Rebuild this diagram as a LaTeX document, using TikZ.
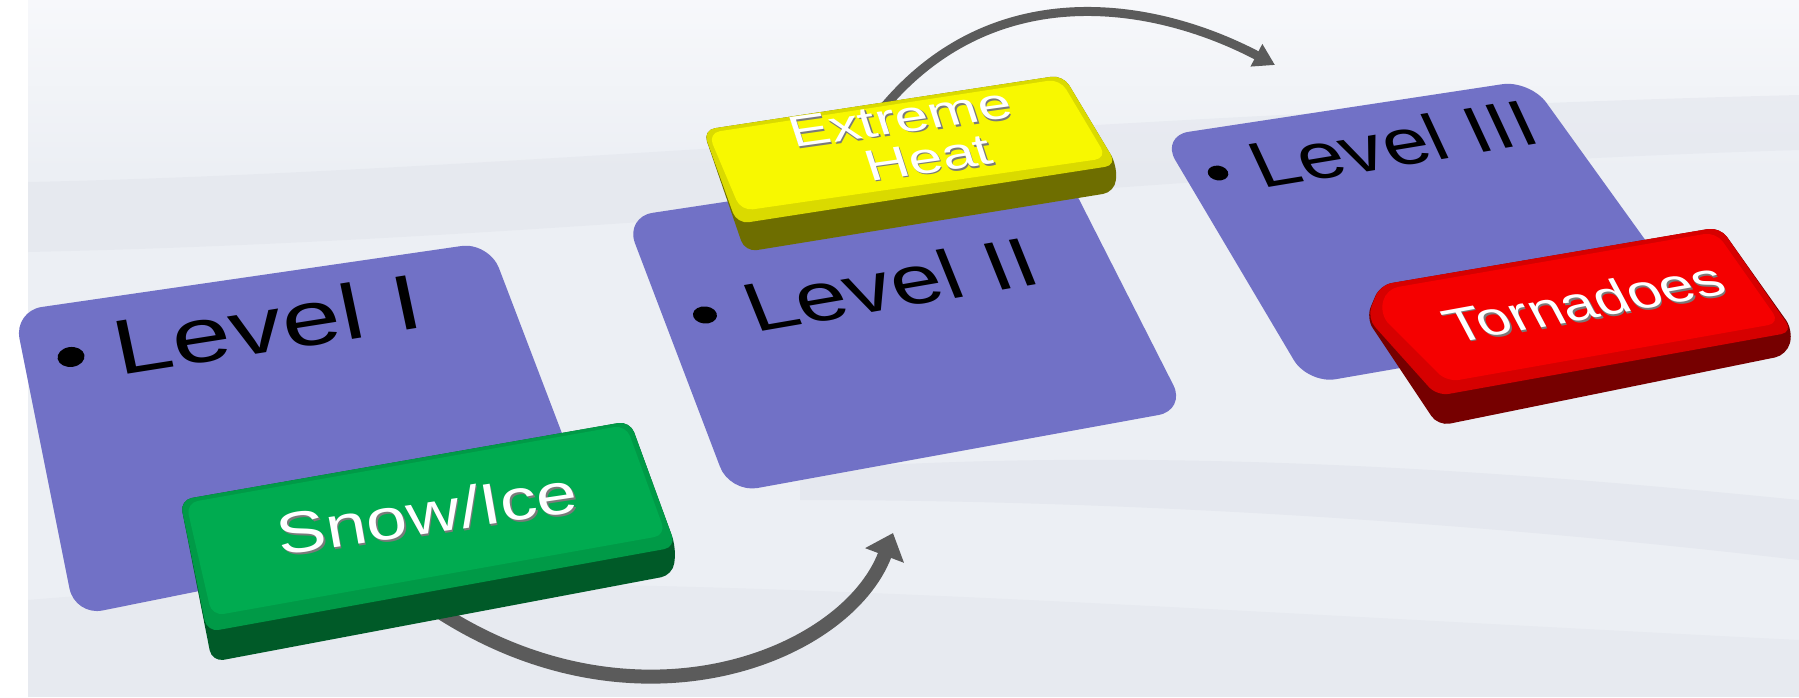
\documentclass[tikz,border=0pt]{standalone}
\usepackage{fontspec}
\setmainfont{Liberation Sans}
\newfontfamily\fLa[FakeStretch=1.35,FakeSlant=-0.052]{Liberation Sans}
\newfontfamily\fLb[FakeStretch=1.30,FakeSlant=-0.216]{Liberation Sans}
\newfontfamily\fLc[FakeStretch=1.23,FakeSlant=-0.279]{Liberation Sans}
\newfontfamily\fKa[FakeStretch=1.27,FakeSlant=-0.026]{Liberation Sans}
\newfontfamily\fKb[FakeStretch=1.36,FakeSlant=-0.176]{Liberation Sans}
\newfontfamily\fKc[FakeStretch=1.22,FakeSlant=-0.319]{Liberation Sans}
\usetikzlibrary{arrows.meta}
\definecolor{panelc}{HTML}{7171C6}
\definecolor{arrc}{HTML}{5B5B5B}
\definecolor{bgc}{HTML}{ECEFF4}
\definecolor{bgdark}{HTML}{E0E3EB}
\definecolor{bglight}{HTML}{F7F8FB}
\definecolor{gmain}{HTML}{00AB50}
\definecolor{gbev}{HTML}{009A47}
\definecolor{gside}{HTML}{005A28}
\definecolor{ymain}{HTML}{F8F800}
\definecolor{ybev}{HTML}{DADA00}
\definecolor{yside}{HTML}{6E6E00}
\definecolor{rmain}{HTML}{F50000}
\definecolor{rbev}{HTML}{D60000}
\definecolor{rside}{HTML}{760000}
\definecolor{txtshadow}{HTML}{7A7A7A}
\begin{document}
\begin{tikzpicture}[x=1pt,y=-1pt,
  panel/.style={fill=panelc, rounded corners=28pt},
  keyshape/.style={rounded corners=12pt},
  arrowline/.style={draw=arrc, line width=#1},
  lvl/.style={anchor=center, inner sep=0pt, text=black},
  keytxt/.style={anchor=center, inner sep=0pt, text=white},
  keyshd/.style={anchor=center, inner sep=0pt, text=txtshadow},
]
\useasboundingbox (0,0) rectangle (1799,697);
% background
\fill[white] (0,0) rectangle (1799,697);
\fill[bgc] (28,0) rectangle (1799,697);
\shade[top color=bglight,bottom color=bgc] (28,0) rectangle (1799,170);
\fill[bgdark,opacity=0.45] (28,182) .. controls (500,172) and (1100,112) .. (1799,95) -- (1799,150) .. controls (1200,168) and (600,240) .. (28,252) -- cycle;
\fill[bgdark,opacity=0.55] (800,470) .. controls (1150,445) and (1500,470) .. (1799,500) -- (1799,560) .. controls (1500,525) and (1150,500) .. (800,500) -- cycle;
\fill[bgdark,opacity=0.4] (28,600) .. controls (500,560) and (1000,600) .. (1799,640) -- (1799,697) -- (28,697) -- cycle;

% panels
\fill[panel] (14,311) -- (489,242) -- (592,512) -- (75,616) -- cycle;
\fill[panel] (625,217) -- (1055,152) -- (1186,410) -- (730,493) -- cycle;
\fill[panel] (1161,136) -- (1530,80) -- (1700,316) -- (1308,384) -- cycle;

% panel texts
\node[lvl, font=\fLa\fontsize{78}{80}\selectfont, rotate=9] (t1) at (268.8,324.1) {Level I};
\node[lvl, font=\fLb\fontsize{70}{72}\selectfont, rotate=9.8] (t2) at (895.3,283.3) {Level II};
\node[lvl, font=\fLc\fontsize{66}{68}\selectfont, rotate=9.4] (t3) at (1399.3,142.5) {Level III};
\begin{scope}[cm={1.3334,0.2112,-0.2079,0.9781,(120,376)}]
  \fill (-32.6,-26.5) circle (10pt);
\end{scope}
\begin{scope}[cm={1.2810,0.2213,-0.3746,0.9272,(755,333)}]
  \fill (-31.2,-26.9) circle (9pt);
\end{scope}
\begin{scope}[cm={1.2135,0.2009,-0.4226,0.9063,(1263,189)}]
  \fill (-28.7,-24.0) circle (8pt);
\end{scope}

% arrows
\coordinate (a1s) at (440,612);
\coordinate (a1e) at (893,533);
\draw[arrowline=14pt, -{Triangle[width=40pt,length=24pt]}] (a1s) .. controls (640,740) and (847,655) .. (a1e);
\coordinate (a2s) at (880,112);
\coordinate (a2e) at (1275,65);
\draw[arrowline=9pt, -{Triangle[width=24pt,length=21pt]}] (a2s) .. controls (990,-24) and (1151,0) .. (a2e);

% green key
\fill[gside, keyshape] (180,500) -- (630,421) -- (676,547) -- (673,575) -- (212,662) -- cycle;
\fill[gbev, keyshape] (180,500) -- (630,421) -- (676,547) -- (207,632) -- cycle;
\fill[gmain, keyshape] (186,503) -- (626,425) -- (666,535) -- (212,616) -- cycle;
% yellow key
\fill[yside, keyshape] (703,130) -- (1063,75) -- (1117,165) -- (1115,192) -- (745,252) -- cycle;
\fill[ybev, keyshape] (703,130) -- (1063,75) -- (1117,165) -- (737,224) -- cycle;
\fill[ymain, keyshape] (708,133) -- (1060,79) -- (1107,158) -- (741,211) -- cycle;
% red key
\fill[rside, keyshape] (1380,285) -- (1720,227) -- (1793,330) -- (1787,355) -- (1438,426) -- (1366,318) -- cycle;
\fill[rbev, keyshape] (1380,285) -- (1720,227) -- (1793,332) -- (1437,396) -- (1367,318) -- cycle;
\fill[rmain, keyshape] (1386,289) -- (1716,232) -- (1780,323) -- (1447,382) -- (1380,315) -- cycle;

% key texts
\node[keyshd, font=\fKa\fontsize{58}{60}\selectfont, rotate=8.5] at (429.1,514.9) {Snow/Ice};
\node[keytxt, font=\fKa\fontsize{58}{60}\selectfont, rotate=8.5] (k1) at (427.6,512.9) {Snow/Ice};
\node[keyshd, font=\fKb\fontsize{44}{46}\selectfont, rotate=8] at (904.1,119.4) {Extreme};
\node[keytxt, font=\fKb\fontsize{44}{46}\selectfont, rotate=8] (k2a) at (902.8,117.6) {Extreme};
\node[keyshd, font=\fKb\fontsize{44}{46}\selectfont, rotate=8] at (932.1,159.4) {Heat};
\node[keytxt, font=\fKb\fontsize{44}{46}\selectfont, rotate=8] (k2b) at (930.8,157.6) {Heat};
\node[keyshd, font=\fKc\fontsize{49}{51}\selectfont, rotate=10.3] at (1590.8,302.8) {Tornadoes};
\node[keytxt, font=\fKc\fontsize{49}{51}\selectfont, rotate=10.3] (k3) at (1589.5,301) {Tornadoes};
\end{tikzpicture}
\end{document}
